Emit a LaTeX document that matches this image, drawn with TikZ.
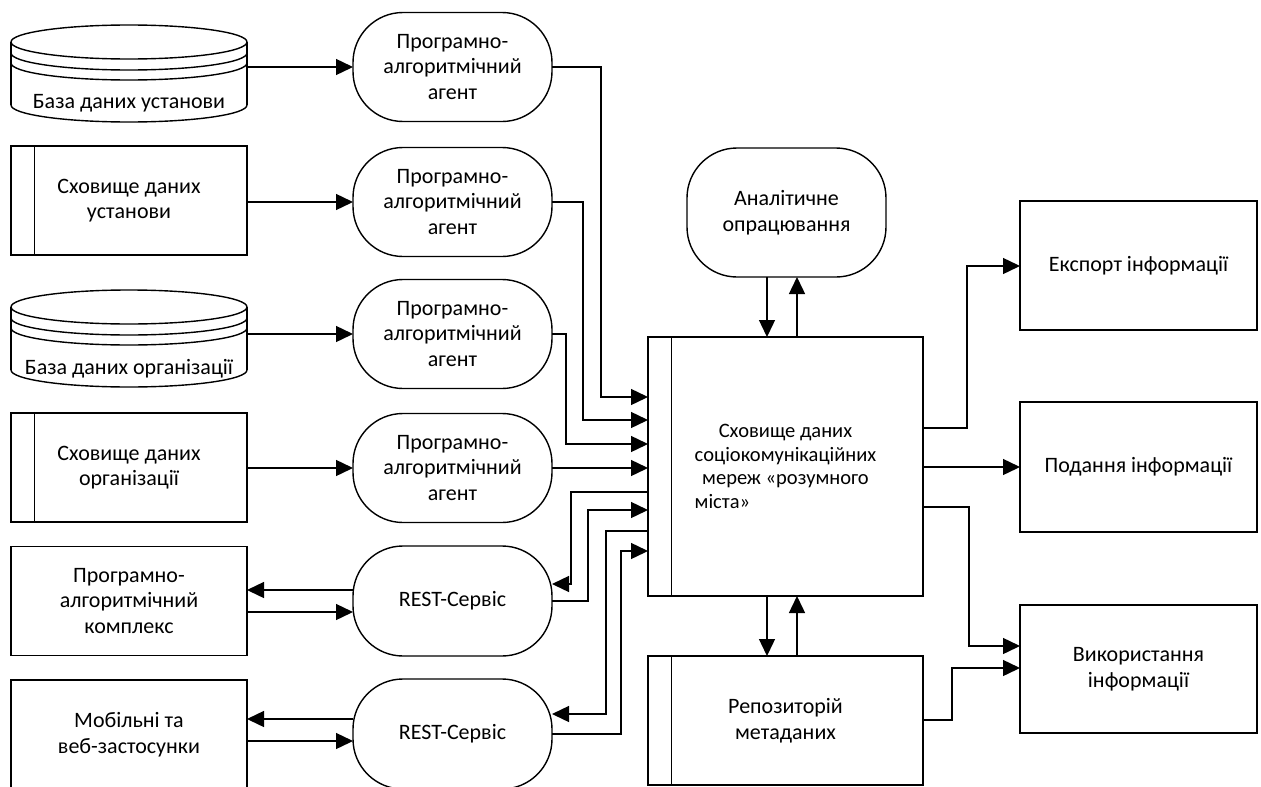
\documentclass[tikz,border=0pt]{standalone}
\usepackage{fontspec}
\setmainfont{Carlito}
\usetikzlibrary{arrows.meta,calc}

% lower half of the database drum, local coordinates, rim centre at height #1
\newcommand\drumarc[1]{(0,#1) .. controls (0,#1+9.39) and (52.8,#1+17) .. (118,#1+17)
  .. controls (183.2,#1+17) and (236,#1+9.39) .. (236,#1)}

\begin{document}
\begin{tikzpicture}[x=1pt,y=-1pt,
  line width=1.4pt,
  every node/.style={font=\fontsize{22}{25.5}\selectfont, inner sep=0pt, outer sep=0pt, align=center},
  plainbox/.style={draw, rectangle, minimum width=236pt, minimum height=109pt},
  stripe/.style={path picture={\draw ([xshift=23.5pt]path picture bounding box.north west)
      -- ([xshift=23.5pt]path picture bounding box.south west);}},
  storebox/.style={plainbox, stripe},
  agentbox/.style={draw, rounded corners=50pt, minimum width=199pt, minimum height=109pt},
  arr/.style={-{Triangle[length=17pt,width=16pt]}},
]
\fill[white] (0,0) rectangle (1261,787);
\useasboundingbox (0,0) rectangle (1261,787);

% ---- sources on the left
\node[minimum width=236pt, minimum height=97pt] (db1) at (129,73.5) {};
\node (db1txt) at (129,103) {База даних установи};
\node[storebox] (st1) at (129,200.5) {Сховище даних\\установи};
\node[minimum width=236pt, minimum height=97pt] (db2) at (129,338.5) {};
\node (db2txt) at (129,369) {База даних організації};
\node[storebox] (st2) at (129,467.5) {Сховище даних\\організації};
\node[plainbox] (pak) at (129,601) {Програмно-\\алгоритмічний\\комплекс};
\node[plainbox] (mob) at (129,734.5) {Мобільні та\\веб-застосунки};

% database drums
\foreach \d in {db1,db2}{
  \begin{scope}[shift={(\d.north west)}]
    \draw (118,17) ellipse [x radius=118, y radius=17];
    \draw (0,17) -- (0,80) (236,17) -- (236,80);
    \draw \drumarc{28};
    \draw \drumarc{38};
    \draw \drumarc{80};
  \end{scope}
}

% ---- agents and services
\node[agentbox] (ag1) at (452.5,67) {Програмно-\\алгоритмічний\\агент};
\node[agentbox] (ag2) at (452.5,202) {Програмно-\\алгоритмічний\\агент};
\node[agentbox] (ag3) at (452.5,334) {Програмно-\\алгоритмічний\\агент};
\node[agentbox] (ag4) at (452.5,468) {Програмно-\\алгоритмічний\\агент};
\node[agentbox, minimum height=110pt] (rest1) at (452.5,601) {REST-Сервіс};
\node[agentbox, minimum height=110pt] (rest2) at (452.5,734) {REST-Сервіс};

% ---- centre
\node[agentbox, minimum height=129pt] (ana) at (786.5,212.5) {Аналітичне\\опрацювання};
\node[draw, stripe, minimum width=275pt, minimum height=259pt,
      font=\fontsize{20.5}{23.5}\selectfont] (central) at (785.5,466.5)
  {Сховище даних\\соціокомунікаційних\\мереж «розумного\\\makebox[0pt][l]{міста»}\hphantom{соціокомунікаційних}};
\node[draw, stripe, minimum width=275pt, minimum height=129pt] (repo) at (785.5,720.5)
  {Репозиторій\\метаданих};

% ---- outputs
\node[draw, minimum width=237pt, minimum height=129pt] (exp) at (1138.5,265.5) {Експорт інформації};
\node[draw, minimum width=237pt, minimum height=130pt] (pod) at (1138.5,467) {Подання інформації};
\node[draw, minimum width=237pt, minimum height=128pt] (vyk) at (1138.5,669) {Використання\\інформації};

% ---- connectors: sources to agents
\draw[arr] (db1.east |- ag1.west) -- (ag1.west);
\draw[arr] (st1.east |- ag2.west) -- (ag2.west);
\draw[arr] (db2.east |- ag3.west) -- (ag3.west);
\draw[arr] (st2.east |- ag4.west) -- (ag4.west);

% agents to the warehouse
\draw[arr] (ag1.east) -| (601,397) -- (central.west |- 0,397);
\draw[arr] (ag2.east) -| (583,420) -- (central.west |- 0,420);
\draw[arr] (ag3.east) -| (566,444) -- (central.west |- 0,444);
\draw[arr] (ag4.east) -- (central.west |- ag4.east);

% REST services and the warehouse
\draw[arr] (central.west |- 0,492) -| (571,584) -- (rest1.east |- 0,584);
\draw[arr] (rest1.east) -| (588,510) -- (central.west |- 0,510);
\draw[arr] (central.west |- 0,531) -| (606,714) -- (rest2.east |- 0,714);
\draw[arr] (rest2.east) -| (621,551) -- (central.west |- 0,551);

% REST services and clients
\draw[arr] (rest1.west |- 0,590) -- (pak.east |- 0,590);
\draw[arr] (pak.east |- 0,612) -- (rest1.west |- 0,612);
\draw[arr] (rest2.west |- 0,719) -- (mob.east |- 0,719);
\draw[arr] (mob.east |- 0,741) -- (rest2.west |- 0,741);

% analytics and metadata
\draw[arr] (ana.south -| 767,0) -- (central.north -| 767,0);
\draw[arr] (central.north -| 797,0) -- (ana.south -| 797,0);
\draw[arr] (central.south -| 767,0) -- (repo.north -| 767,0);
\draw[arr] (repo.north -| 797,0) -- (central.south -| 797,0);

% outputs
\draw[arr] (central.east |- 0,428) -| (967,266) -- (exp.west |- 0,266);
\draw[arr] (central.east |- pod.west) -- (pod.west);
\draw[arr] (central.east |- 0,507) -| (969,646) -- (vyk.west |- 0,646);
\draw[arr] (repo.east |- 0,720) -| (952,668) -- (vyk.west |- 0,668);
\end{tikzpicture}
\end{document}
